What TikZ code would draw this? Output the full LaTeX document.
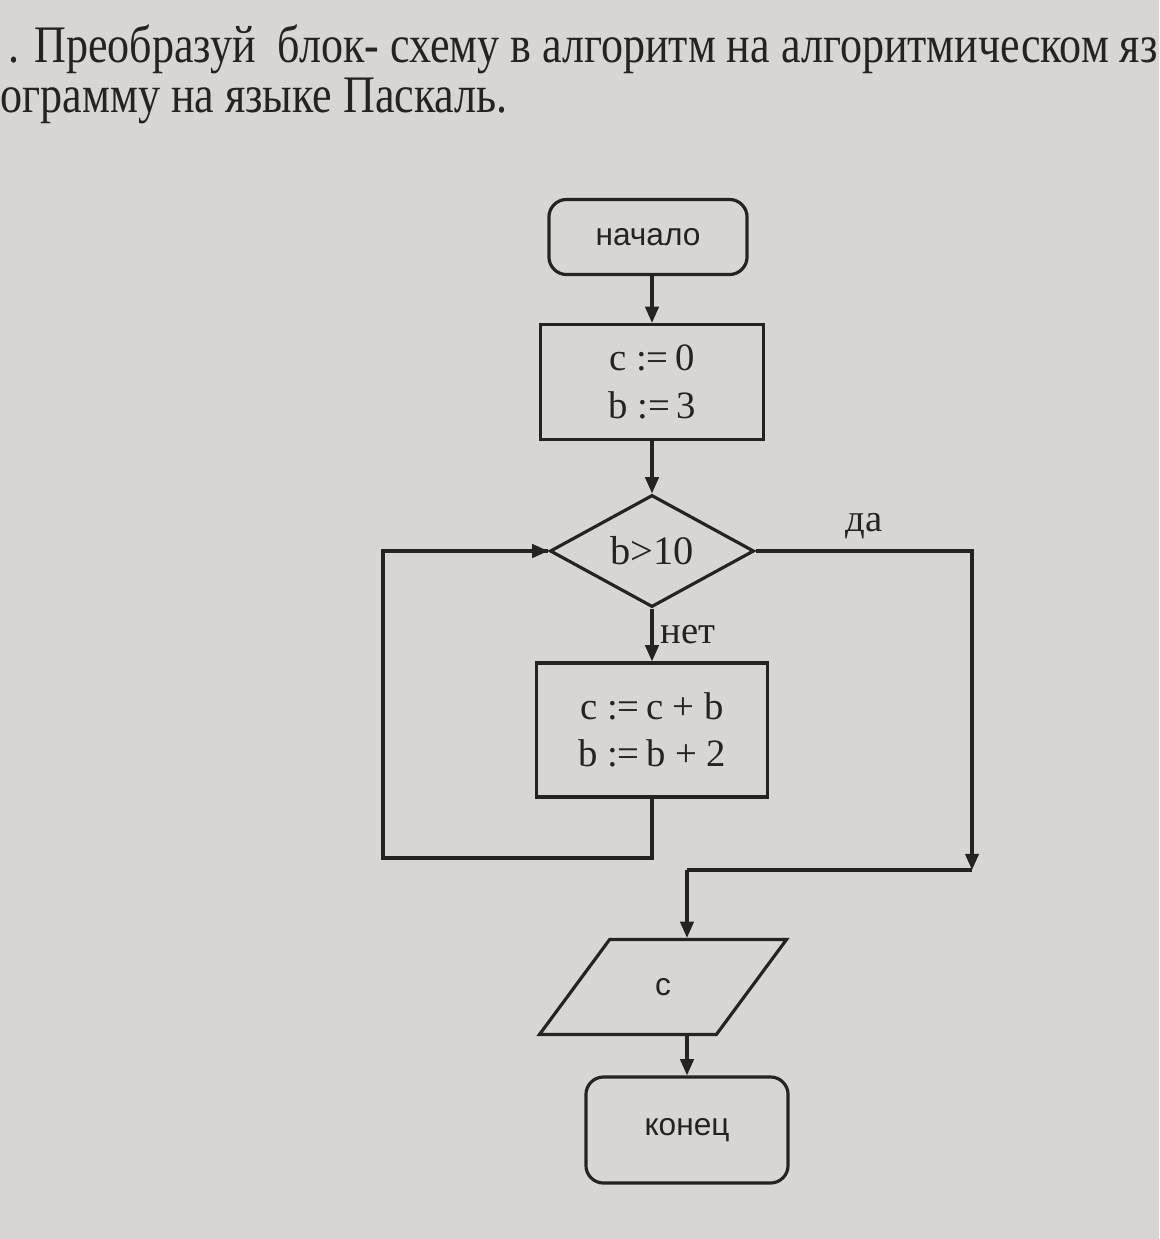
\documentclass[tikz,border=0pt]{standalone}
\usepackage{fontspec}
\setmainfont{Liberation Serif}
\setsansfont{Liberation Sans}
\usetikzlibrary{shapes.geometric, arrows.meta}
\definecolor{paper}{RGB}{216,213,211}
\definecolor{ink}{RGB}{38,34,34}

\tikzset{
  >={Triangle[length=4.6pt, width=3.8pt]},
  flow/.style={ink, line width=0.9pt},
  term/.style={draw, rounded corners=5pt, minimum width=1.98cm, minimum height=0.75cm,
    font=\sffamily\fontsize{9}{11}\selectfont},
  procbox/.style={draw, rectangle, align=center, font=\fontsize{11}{13.5}\selectfont},
  decide/.style={draw, diamond, inner sep=0pt, minimum width=2.04cm, minimum height=1.12cm,
    font=\fontsize{11.5}{13}\selectfont},
  iobox/.style={draw, trapezium, trapezium left angle=59, trapezium right angle=121,
    trapezium stretches=true, minimum width=2.47cm, minimum height=0.95cm, inner sep=0pt,
    font=\sffamily\fontsize{9}{11}\selectfont},
  lbl/.style={ink, font=\fontsize{11}{13}\selectfont},
  heading/.style={ink, anchor=base west, inner sep=0pt, xscale=0.835,
    font=\fontsize{15}{18}\selectfont}
}

\begin{document}
\begin{tikzpicture}[x=0.01cm, y=-0.01cm, every node/.style={text=ink}]
    % Page
    \useasboundingbox (0,0) rectangle (1159,1239);
    \fill[paper] (0,0) rectangle (1159,1239);

    % Task text
    \node[heading] (task1) at (8,62) {. Преобразуй\ \ блок- схему в алгоритм на алгоритмическом яз};
    \node[heading] (task2) at (0,112) {ограмму на языке Паскаль.};

    % Nodes
    \node[term, flow] (start) at (648,237) {начало};
    \node[procbox, flow, minimum width=2.23cm, minimum height=1.15cm] (init) at (652,382) {c :=\,0\\b :=\,3};
    \node[decide, flow] (cond) at (652,551) {b>10};
    \node[procbox, flow, minimum width=2.31cm, minimum height=1.34cm] (body) at (652,730) {c :=\,c + b\\b :=\,b + 2};
    \node[iobox, flow] (out) at (663,987) {c};
    \node[term, flow, minimum width=2.02cm, minimum height=1.06cm] (stop) at (687,1130) {конец};

    \coordinate (yesR) at (972,870);
    \coordinate (join) at (687,870);
    \coordinate (loopR) at (652,858);
    \coordinate (loopL) at (383,858);

    % Arrows
    \draw[->, flow] (start.south -| init) -- (init);
    \draw[->, flow] (init) -- (cond);
    \draw[->, flow] (cond) -- (body) node[lbl, pos=0.5, right, inner sep=2pt] {нет};
    \draw[->, flow] (cond.east) -| (yesR) node[lbl, pos=0.25, above, inner sep=3pt] {да};
    \draw[flow] (body) -- (loopR) -- (loopL) |- (cond.west);
    \draw[->, flow] (cond.west -| loopL) -- (cond.west);
    \draw[flow] (yesR) -- (join);
    \draw[->, flow] (join) -- (join |- out.north);
    \draw[->, flow] (out.south -| stop) -- (stop);
\end{tikzpicture}
\end{document}
